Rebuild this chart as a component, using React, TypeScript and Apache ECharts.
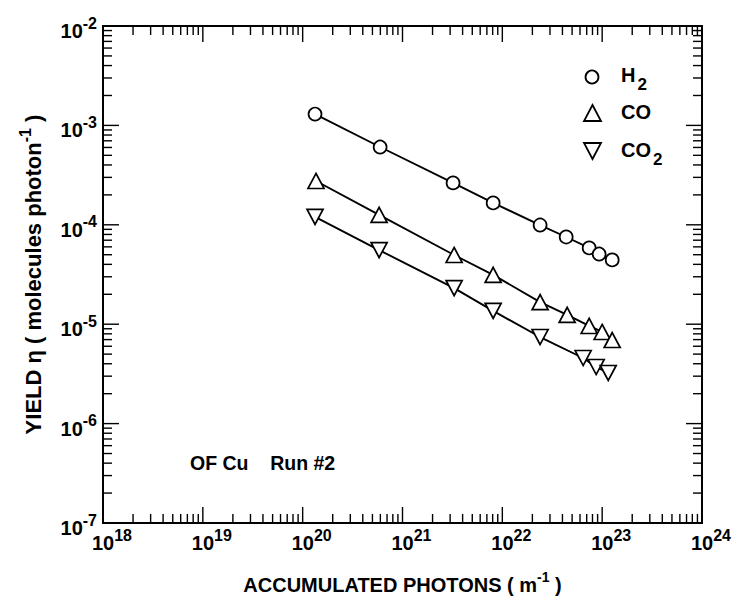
import React, { useEffect, useRef } from "react";
import * as echarts from "echarts";

// ---- data ----
const h2Photons = [1.33e20, 5.97e20, 3.21e21, 8.09e21, 2.39e22, 4.36e22, 7.41e22, 9.33e22, 1.26e23];
const h2Yield = [1.3e-3, 6.06e-4, 2.64e-4, 1.66e-4, 9.95e-5, 7.54e-5, 5.85e-5, 5.08e-5, 4.43e-5];
const coPhotons = [1.36e20, 5.83e20, 3.29e21, 8.09e21, 2.39e22, 4.46e22, 7.41e22, 1.0e23, 1.26e23];
const coYield = [2.76e-4, 1.26e-4, 4.97e-5, 3.13e-5, 1.67e-5, 1.24e-5, 9.6e-6, 8.35e-6, 6.93e-6];
const co2Photons = [1.33e20, 5.83e20, 3.29e21, 8.09e21, 2.39e22, 6.45e22, 8.71e22, 1.15e23];
const co2Yield = [1.2e-4, 5.57e-5, 2.31e-5, 1.36e-5, 7.43e-6, 4.57e-6, 3.71e-6, 3.23e-6];

const xExponents = [18, 19, 20, 21, 22, 23, 24];
const yExponents = [-7, -6, -5, -4, -3, -2];
const tickMultipliers = [1, 2, 3, 4, 5, 6, 7, 8, 9];

const seriesNames = ["H2", "CO", "CO2"];
const xTitle = "ACCUMULATED PHOTONS ( m";
const yTitle = "YIELD η ( molecules photon";
const annotation = "OF Cu    Run #2";

const FONT = "'Liberation Sans', Arial, Helvetica, sans-serif";

const pairs = (xs: number[], ys: number[]) => xs.map((x, i) => [x, ys[i]]);

export default function App() {
  const ref = useRef<HTMLDivElement>(null);
  useEffect(() => {
    if (!ref.current) return;
    const chart = echarts.init(ref.current, undefined, { renderer: "svg" });
    const xMin = Math.pow(10, xExponents[0]);
    const xMax = Math.pow(10, xExponents[xExponents.length - 1]);
    const yMin = Math.pow(10, yExponents[0]);
    const yMax = Math.pow(10, yExponents[yExponents.length - 1]);

    const markerStyle = { color: "#fff", borderColor: "#000", borderWidth: 1.7 };
    const lineStyle = { color: "#000", width: 1.9 };

    const supRich = {
      b: { fontFamily: FONT, fontSize: 20, fontWeight: "bold", color: "#000", lineHeight: 22, padding: [6, 0, 6, 0], verticalAlign: "top" },
      s: { fontFamily: FONT, fontSize: 16, fontWeight: "bold", color: "#000", lineHeight: 17, verticalAlign: "top" },
      p: { width: 18 },
    };
    const titleRich = {
      t: { fontFamily: FONT, fontSize: 20, fontWeight: "bold", color: "#000", lineHeight: 22, padding: [5, 0, 0, 0], verticalAlign: "top" },
      u: { fontFamily: FONT, fontSize: 14, fontWeight: "bold", color: "#000", lineHeight: 15, verticalAlign: "top" },
    };
    const yTitleRich = {
      t: { fontFamily: FONT, fontSize: 22, fontWeight: "bold", color: "#000", lineHeight: 24, padding: [5, 0, 0, 0], verticalAlign: "top" },
      u: { fontFamily: FONT, fontSize: 16, fontWeight: "bold", color: "#000", lineHeight: 17, verticalAlign: "top" },
    };
    const legendRich = {
      t: { fontFamily: FONT, fontSize: 20, fontWeight: "bold", fill: "#000", lineHeight: 22, verticalAlign: "top" },
      d: { fontFamily: FONT, fontSize: 17, fontWeight: "bold", fill: "#000", lineHeight: 18, padding: [11, 0, 0, 2], verticalAlign: "top" },
    };

    const option: any = {
      animation: false,
      backgroundColor: "#fff",
      grid: { left: 103, right: 37, top: 26, bottom: 80, show: true, borderColor: "#000", borderWidth: 2, backgroundColor: "transparent" },
      xAxis: {
        type: "log",
        logBase: 10,
        min: xMin,
        max: xMax,
        axisLine: { show: true, lineStyle: { color: "#000", width: 2 } },
        axisTick: { show: false },
        splitLine: { show: false },
        minorTick: { show: false },
        axisLabel: {
          margin: 4,
          formatter: (v: number) => `{p|}{b|10}{s|${Math.round(Math.log10(v))}}`,
          rich: supRich,
        },
        name: `{t|${xTitle}}{u|-1}{t| )}`,
        nameLocation: "middle",
        nameGap: 47,
        nameTextStyle: { rich: titleRich },
      },
      yAxis: {
        type: "log",
        logBase: 10,
        min: yMin,
        max: yMax,
        axisLine: { show: true, lineStyle: { color: "#000", width: 2 } },
        axisTick: { show: false },
        splitLine: { show: false },
        axisLabel: {
          margin: 6,
          formatter: (v: number) => `{b|10}{s|${Math.round(Math.log10(v))}}`,
          rich: supRich,
        },
        name: `{t|${yTitle}}{u|-1}{t| )}`,
        nameLocation: "middle",
        nameGap: 62,
        nameTextStyle: { rich: yTitleRich },
      },
      series: [
        {
          name: seriesNames[0],
          type: "line",
          data: pairs(h2Photons, h2Yield),
          symbol: "circle",
          symbolSize: 13,
          itemStyle: markerStyle,
          lineStyle,
          z: 3,
        },
        {
          name: seriesNames[1],
          type: "line",
          data: pairs(coPhotons, coYield),
          symbol: "triangle",
          symbolSize: [16, 15],
          itemStyle: markerStyle,
          lineStyle,
          z: 3,
        },
        {
          name: seriesNames[2],
          type: "line",
          data: pairs(co2Photons, co2Yield),
          symbol: "triangle",
          symbolRotate: 180,
          symbolSize: [16, 15],
          itemStyle: markerStyle,
          lineStyle,
          z: 3,
        },
        {
          type: "custom",
          silent: true,
          clip: false,
          z: 1,
          data: [[1e21, 1e-4]],
          renderItem: (_p: any, api: any) => {
            const children: any[] = [];
            const [xl, yb] = api.coord([xMin, yMin]);
            const [xr, yt] = api.coord([xMax, yMax]);
            const st = { stroke: "#000", lineWidth: 1.4 };
            xExponents.forEach((e) => {
              tickMultipliers.forEach((m) => {
                const v = m * Math.pow(10, e);
                if (v > xMax * 1.0001) return;
                const px = api.coord([v, 1e-4])[0];
                const len = m === 1 ? 16 : 9;
                children.push({ type: "line", shape: { x1: px, y1: yb, x2: px, y2: yb - len }, style: st });
                children.push({ type: "line", shape: { x1: px, y1: yt, x2: px, y2: yt + len }, style: st });
              });
            });
            yExponents.forEach((e) => {
              tickMultipliers.forEach((m) => {
                const v = m * Math.pow(10, e);
                if (v > yMax * 1.0001) return;
                const py = api.coord([1e21, v])[1];
                const len = m === 1 ? 16 : 9;
                children.push({ type: "line", shape: { x1: xl, y1: py, x2: xl + len, y2: py }, style: st });
                children.push({ type: "line", shape: { x1: xr, y1: py, x2: xr - len, y2: py }, style: st });
              });
            });
            return { type: "group", children };
          },
        },
      ],
      graphic: [
        { type: "circle", shape: { cx: 592, cy: 77, r: 6.5 }, style: { fill: "#fff", stroke: "#000", lineWidth: 1.8 } },
        { type: "polygon", shape: { points: [[584, 121], [601, 121], [592.5, 105]] }, style: { fill: "#fff", stroke: "#000", lineWidth: 1.8 } },
        { type: "polygon", shape: { points: [[584, 143], [601, 143], [592.5, 159]] }, style: { fill: "#fff", stroke: "#000", lineWidth: 1.8 } },
        { type: "text", x: 621, y: 65, style: { text: "{t|H}{d|2}", rich: legendRich } },
        { type: "text", x: 621, y: 102, style: { text: "CO", fontFamily: FONT, fontSize: 20, fontWeight: "bold", fill: "#000" } },
        { type: "text", x: 621, y: 140, style: { text: "{t|CO}{d|2}", rich: legendRich } },
        { type: "text", x: 190, y: 453, style: { text: annotation, fontFamily: FONT, fontSize: 19.5, fontWeight: "bold", fill: "#000" } },
      ],
    };
    chart.setOption(option);
    return () => chart.dispose();
  }, []);
  return <div ref={ref} style={{ width: 739, height: 603, position: "absolute", left: 0, top: 0 }} />;
}
